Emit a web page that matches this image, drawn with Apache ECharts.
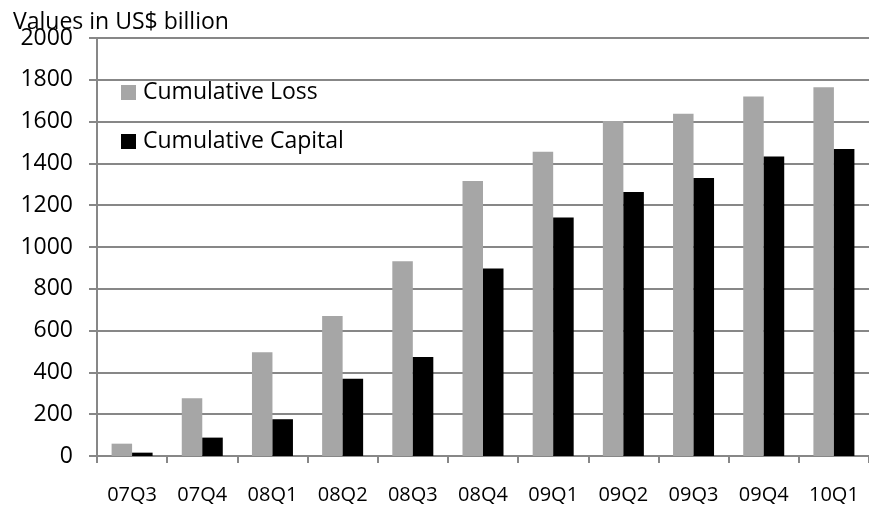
<!DOCTYPE html>
<html>
<head>
<meta charset="utf-8">
<script src="https://cdn.jsdelivr.net/npm/echarts@6/dist/echarts.min.js"></script>
<style>
  html, body { margin: 0; padding: 0; background: #fff; }
  #chart { width: 869px; height: 505px; }
</style>
</head>
<body>
<div id="chart"></div>
<script>
// quarters on the x axis
var quarters = ['07Q3', '07Q4', '08Q1', '08Q2', '08Q3', '08Q4', '09Q1', '09Q2', '09Q3', '09Q4', '10Q1'];
// values in US$ billion
var cumulativeLoss = [59, 276, 496, 670, 932, 1316, 1456, 1603, 1638, 1720, 1764];
var cumulativeCapital = [16, 88, 176, 370, 474, 897, 1141, 1263, 1330, 1433, 1469];
var yTicks = { min: 0, max: 2000, step: 200 };

var font = 'Open Sans';
var axisGrey = '#878787';

var myChart = echarts.init(document.getElementById('chart'));
var option = {
  animation: false,
  title: {
    text: 'Values in US$ billion',
    left: 8,
    top: 6,
    textStyle: { fontFamily: font, fontSize: 23, fontWeight: 'normal', color: '#000' }
  },
  legend: {
    orient: 'vertical',
    left: 116,
    top: 76,
    itemWidth: 15,
    itemHeight: 15,
    itemGap: 26,
    icon: 'rect',
    textStyle: { fontFamily: font, fontSize: 23, color: '#000', padding: [0, 0, 0, 2] },
    data: ['Cumulative Loss', 'Cumulative Capital']
  },
  grid: {
    left: 97,
    right: -7,
    top: 38,
    bottom: 49
  },
  xAxis: {
    type: 'category',
    data: quarters,
    axisLine: { lineStyle: { color: axisGrey, width: 2 } },
    axisTick: { show: true, length: 7, lineStyle: { color: axisGrey, width: 2 } },
    axisLabel: { fontFamily: font, fontSize: 20, color: '#000', margin: 29 }
  },
  yAxis: {
    type: 'value',
    min: yTicks.min,
    max: yTicks.max,
    interval: yTicks.step,
    axisLine: { show: true, lineStyle: { color: axisGrey, width: 2 } },
    axisTick: { show: true, length: 8, lineStyle: { color: axisGrey, width: 2 } },
    axisLabel: {
      fontFamily: font, fontSize: 23, color: '#000', margin: 24,
      formatter: function (v) { return String(v); }
    },
    splitLine: { show: true, lineStyle: { color: axisGrey, width: 2 } }
  },
  series: [
    {
      name: 'Cumulative Loss',
      type: 'bar',
      data: cumulativeLoss,
      barWidth: 20.5,
      barGap: '0%',
      itemStyle: { color: '#a6a6a6' }
    },
    {
      name: 'Cumulative Capital',
      type: 'bar',
      data: cumulativeCapital,
      barWidth: 20.5,
      barGap: '0%',
      itemStyle: { color: '#000000' }
    }
  ]
};
option && myChart.setOption(option);
</script>
</body>
</html>
